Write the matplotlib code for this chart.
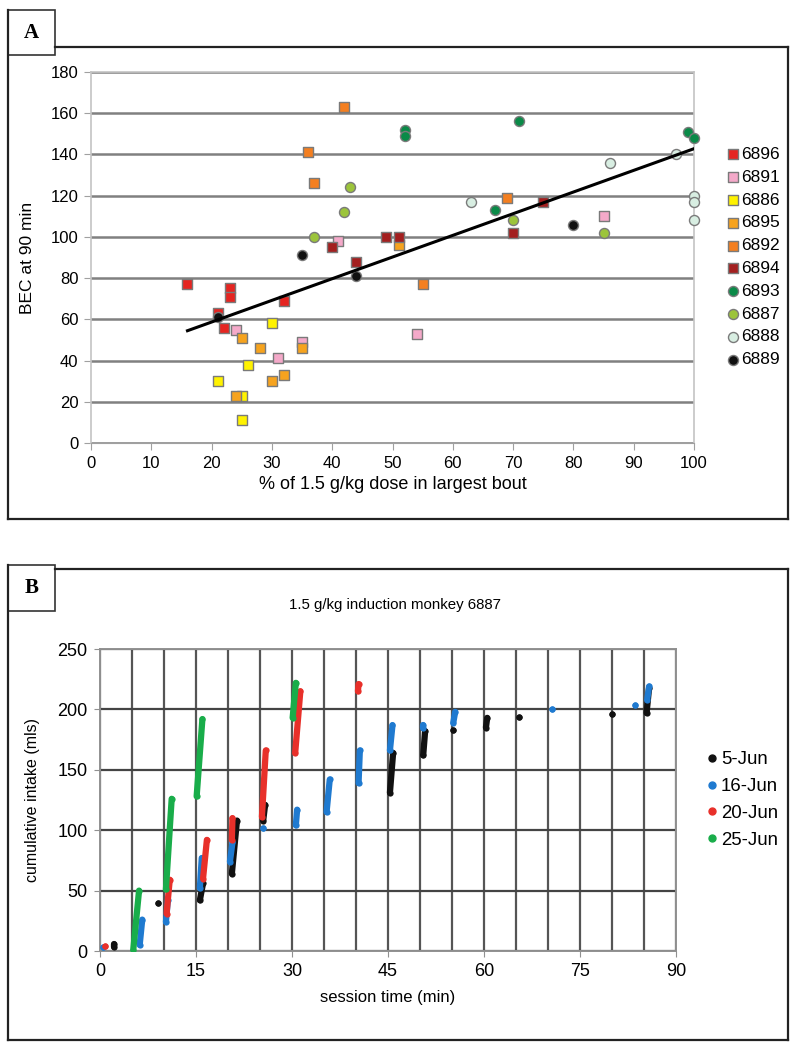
import numpy as np
import matplotlib
matplotlib.use("Agg")
import matplotlib.pyplot as plt
from matplotlib.lines import Line2D
from matplotlib.patches import Rectangle

plt.rcParams['font.family'] = ['Liberation Sans', 'DejaVu Sans']

# ---- Panel A data: % of dose in largest bout vs BEC ----
monkeys = ['6896', '6891', '6886', '6895', '6892', '6894', '6893', '6887', '6888', '6889']
a_x = [
    [16, 23, 23, 21, 22, 32],
    [24, 31, 35, 41, 54, 85],
    [30, 26, 21, 25, 25],
    [25, 28, 30, 32, 35, 24, 51],
    [42, 36, 37, 69, 55],
    [40, 49, 51, 44, 70, 75],
    [52, 52, 71, 99, 100, 67],
    [43, 42, 37, 70, 85],
    [63, 86, 97, 100, 100, 100],
    [35, 44, 21, 80],
]
a_y = [
    [77, 75, 71, 63, 56, 69],
    [55, 41, 49, 98, 53, 110],
    [58, 38, 30, 23, 11],
    [51, 46, 30, 33, 46, 23, 96],
    [163, 141, 126, 119, 77],
    [95, 100, 100, 88, 102, 117],
    [152, 149, 156, 151, 148, 113],
    [124, 112, 100, 108, 102],
    [117, 136, 140, 120, 117, 108],
    [91, 81, 61, 106],
]
a_colors = ['#e52521', '#f4a9c9', '#fff200', '#f6a31e', '#f47f20',
            '#a31f1f', '#0a8a48', '#9cc43b', '#d8eee2', '#111111']
a_markers = ['s'] * 6 + ['o'] * 4

# ---- Panel B data: drinking bouts (start/end time in min, start/end cumulative mls) ----
dates = ['5-Jun', '16-Jun', '20-Jun', '25-Jun']
b_colors = ['#111111', '#1f7ad0', '#e8302a', '#19ad4a']
b_t0 = [
    [2.2, 9.1, 15.6, 20.6, 25.5, 45.3, 50.5, 55.2, 60.3, 65.5, 80.0, 85.4],
    [0.4, 6.2, 10.3, 15.6, 20.3, 25.4, 30.6, 35.4, 40.4, 45.3, 50.4, 55.2, 70.6, 83.6, 85.5],
    [0.8, 10.4, 16.1, 20.6, 25.3, 30.5, 40.3],
    [5.2, 10.3, 15.1, 30.1],
]
b_t1 = [
    [2.2, 9.1, 16.1, 21.4, 25.8, 45.8, 50.8, 55.2, 60.5, 65.5, 80.0, 85.8],
    [0.4, 6.6, 10.6, 15.9, 20.7, 25.4, 30.8, 35.9, 40.6, 45.7, 50.4, 55.5, 70.6, 83.6, 85.8],
    [0.8, 10.9, 16.7, 20.7, 25.9, 31.3, 40.4],
    [6.1, 11.2, 16.0, 30.6],
]
b_v0 = [
    [3, 40, 42, 64, 108, 131, 162, 183, 185, 194, 196, 197],
    [3, 5, 24, 52, 74, 102, 104, 115, 139, 166, 185, 189, 200, 204, 208],
    [4, 31, 60, 92, 111, 164, 215],
    [1, 51, 128, 193],
]
b_v1 = [
    [6, 40, 56, 108, 121, 164, 182, 183, 193, 194, 196, 218],
    [3, 26, 42, 77, 90, 102, 117, 142, 166, 187, 187, 198, 200, 204, 219],
    [4, 59, 92, 110, 166, 215, 221],
    [50, 126, 192, 222],
]

W, H = 799, 1050
fig = plt.figure(figsize=(W / 100, H / 100), dpi=100)


def fx(px):
    return px / W


def fy(py):
    return 1 - py / H


def frame(top, bottom, box_top, box_bottom, label):
    kw = dict(transform=fig.transFigure, color='#222222', lw=1.6)
    fig.add_artist(Line2D([fx(8), fx(8)], [fy(box_top), fy(bottom)], **kw))
    fig.add_artist(Line2D([fx(8), fx(788)], [fy(bottom), fy(bottom)], **kw))
    fig.add_artist(Line2D([fx(788), fx(788)], [fy(top), fy(bottom)], **kw))
    fig.add_artist(Line2D([fx(55), fx(788)], [fy(top), fy(top)], **kw))
    fig.add_artist(Rectangle((fx(8), fy(box_bottom)), fx(55) - fx(8), fy(box_top) - fy(box_bottom),
                             transform=fig.transFigure, fill=False, ec='#333333', lw=1.2))
    fig.text(fx(31.5), fy((box_top + box_bottom) / 2), label, ha='center', va='center',
             fontsize=15, fontweight='bold', family='Liberation Serif')


frame(47, 519, 10, 55, 'A')
frame(569, 1040, 565, 611, 'B')

# ---- Panel A ----
axA = fig.add_axes([fx(91), fy(443), fx(694) - fx(91), fy(72) - fy(443)])
for xs, ys, c, m, lab in zip(a_x, a_y, a_colors, a_markers, monkeys):
    axA.scatter(xs, ys, s=62 if m == 's' else 52, marker=m, c=c, edgecolors='#7a7a7a',
                linewidths=1.0, zorder=3, label=lab, clip_on=False)

all_x = np.concatenate([np.array(v, float) for v in a_x])
all_y = np.concatenate([np.array(v, float) for v in a_y])
slope, icpt = np.polyfit(all_x, all_y, 1)
tx = np.array([all_x.min(), all_x.max()])
axA.plot(tx, slope * tx + icpt, color='black', lw=2.2, zorder=4)

axA.set_xlim(0, 100)
axA.set_ylim(0, 180)
axA.set_xticks(range(0, 101, 10))
axA.set_yticks(range(0, 181, 20))
axA.yaxis.grid(True, color='#808080', lw=1.8)
axA.set_axisbelow(True)
for s in ['left', 'right', 'top']:
    axA.spines[s].set_color('#c4c4c4')
    axA.spines[s].set_linewidth(1.2)
axA.spines['bottom'].set_color('#a0a0a0')
axA.tick_params(axis='both', direction='out', length=5, color='#a0a0a0', labelsize=12, pad=4)
axA.set_xlabel('% of 1.5 g/kg dose in largest bout', fontsize=13)
axA.set_ylabel('BEC at 90 min', fontsize=12.5)
axA.xaxis.set_label_coords(0.5, -0.089)
axA.yaxis.set_label_coords(-0.093, 0.5)
axA.legend(loc='center left', bbox_to_anchor=(fx(725), fy(257)), bbox_transform=fig.transFigure,
           frameon=False, fontsize=12.5, handletextpad=0.0, labelspacing=0.44,
           handlelength=0.9, borderpad=0, borderaxespad=0, scatterpoints=1)

# ---- Panel B ----
axB = fig.add_axes([fx(100), fy(951), fx(676) - fx(100), fy(649) - fy(951)])
for c, lab, t0, t1, v0, v1 in zip(b_colors, dates, b_t0, b_t1, b_v0, b_v1):
    for a, b, p, q in zip(t0, t1, v0, v1):
        axB.plot([a, b], [p, q], '-o', color=c, lw=4.5, ms=4.5, mew=0,
                 solid_capstyle='round', zorder=3)
    axB.plot([], [], 'o', color=c, ms=5, label=lab)

axB.set_xlim(0, 90)
axB.set_ylim(0, 250)
axB.set_xticks(range(0, 91, 15))
axB.set_xticks(range(0, 91, 5), minor=True)
axB.set_yticks(range(0, 251, 50))
axB.grid(True, which='both', axis='x', color='#555555', lw=1.6)
axB.grid(True, which='major', axis='y', color='#444444', lw=1.6)
axB.set_axisbelow(True)
for s in axB.spines.values():
    s.set_color('#909090')
    s.set_linewidth(1.4)
axB.tick_params(axis='both', which='major', direction='out', length=4, color='#909090',
                labelsize=13, pad=5)
axB.tick_params(axis='x', which='minor', length=0)
axB.set_xlabel('session time (min)', fontsize=12)
axB.set_ylabel('cumulative intake (mls)', fontsize=11.5)
axB.xaxis.set_label_coords(0.5, -0.129)
axB.yaxis.set_label_coords(-0.104, 0.5)
fig.text(fx(395), fy(605), '1.5 g/kg induction monkey 6887', ha='center', va='center', fontsize=10.8)
axB.legend(loc='center left', bbox_to_anchor=(fx(705), fy(800)), bbox_transform=fig.transFigure,
           frameon=False, fontsize=13.4, handletextpad=0.05, labelspacing=0.52,
           handlelength=0.8, borderpad=0, borderaxespad=0)

fig.savefig('out.png', dpi=100)
